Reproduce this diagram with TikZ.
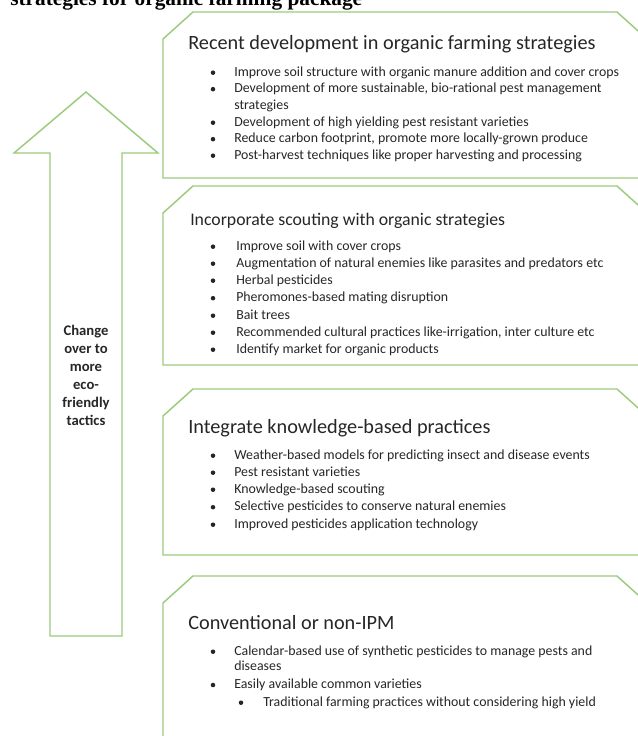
\documentclass[tikz,border=0pt]{standalone}
\usepackage{fontspec}
\setmainfont{Carlito}
\newfontfamily\headserif{Liberation Serif}

\definecolor{boxgreen}{HTML}{9CCB7E}
\definecolor{ink}{HTML}{262626}

\tikzset{
  outline/.style={draw=boxgreen, line width=1.1pt, line join=miter},
  head/.style={anchor=base west, inner sep=0pt, text=ink, font=\fontsize{15.2}{17}\selectfont},
  item/.style={anchor=base west, inner sep=0pt, text=ink, font=\fontsize{10.4}{12}\selectfont},
  dot/.style={fill=ink},
}

% box with both top corners snipped, top and bottom y given
\newcommand{\snipbox}[2]{%
  \draw[outline] (193,#1) -- (617,#1) -- (647,#1+27) -- (647,#2) -- (163,#2) -- (163,#1+27) -- cycle;}

\begin{document}
\begin{tikzpicture}[x=0.75pt,y=-0.75pt]
  \useasboundingbox (0,0) rectangle (637,736);

  \node[anchor=base west, inner sep=0pt, font=\headserif\bfseries\fontsize{16}{18}\selectfont]
    (pkg) at (10,5) {strategies for organic farming package};

  % big arrow on the left
  \draw[outline] (50,636) -- (50,153) -- (14,153) -- (86,92) -- (158,153)
    -- (122,153) -- (122,636) -- cycle;
  \node[align=center, text=ink, font=\bfseries\fontsize{11}{13.5}\selectfont]
    (change) at (86,375) {Change\\over to\\more\\eco-\\friendly\\tactics};

  % the four stages
  \snipbox{12}{178}
  \snipbox{186}{365}
  \snipbox{389}{555}
  \snipbox{576}{760}

  \node[head] (recent) at (188,49) {Recent development in organic farming strategies};
  \foreach \y/\t [count=\i] in {76/{Improve soil structure with organic manure addition and cover crops},
      92.5/{Development of more sustainable, bio-rational pest management},
      126/{Development of high yielding pest resistant varieties},
      142.5/{Reduce carbon footprint, promote more locally-grown produce},
      159/{Post-harvest techniques like proper harvesting and processing}} {
    \fill[dot] (213,\y-3.3) circle (1.7pt);
    \node[item] (rec\i) at (234,\y) {\t};
  }
  \node[item] (rec2b) at (234,109) {strategies};

  \node[head, font=\fontsize{13.3}{15}\selectfont] (scout) at (190,225) {Incorporate scouting with organic strategies};
  \foreach \y/\t [count=\i] in {250/{Improve soil with cover crops},
      267/{Augmentation of natural enemies like parasites and predators etc},
      284/{Herbal pesticides},
      301.5/{Pheromones-based mating disruption},
      319/{Bait trees},
      336/{Recommended cultural practices like-irrigation, inter culture etc},
      353/{Identify market for organic products}} {
    \fill[dot] (213,\y-3.3) circle (1.7pt);
    \node[item] (sc\i) at (236,\y) {\t};
  }

  \node[head] (know) at (188,433) {Integrate knowledge-based practices};
  \foreach \y/\t [count=\i] in {459/{Weather-based models for predicting insect and disease events},
      476/{Pest resistant varieties},
      493/{Knowledge-based scouting},
      510.5/{Selective pesticides to conserve natural enemies},
      528/{Improved pesticides application technology}} {
    \fill[dot] (213,\y-3.3) circle (1.7pt);
    \node[item] (kn\i) at (234,\y) {\t};
  }

  \node[head] (conv) at (188,629) {Conventional or non-IPM};
  \fill[dot] (213,651.7) circle (1.7pt);
  \node[item] (cv1) at (234,655) {Calendar-based use of synthetic pesticides to manage pests and};
  \node[item] (cv1b) at (234,670.5) {diseases};
  \fill[dot] (213,685) circle (1.7pt);
  \node[item] (cv2) at (234,688) {Easily available common varieties};
  \fill[dot] (241,702.7) circle (1.7pt);
  \node[item] (cv3) at (263,706) {Traditional farming practices without considering high yield};
\end{tikzpicture}
\end{document}
